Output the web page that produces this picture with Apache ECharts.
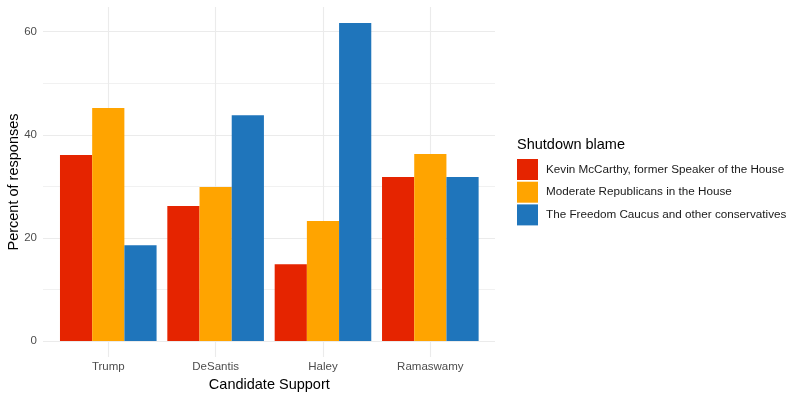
<!DOCTYPE html>
<html>
<head>
	<meta charset="utf-8" />
	<title>Shutdown blame</title>
	<script type="text/javascript" src="https://cdn.jsdelivr.net/npm/echarts@6/dist/echarts.min.js"></script>
	<style>
		html, body { margin: 0; padding: 0; background: #fff; }
		#chart { width: 803px; height: 399px; }
	</style>
</head>
<body>
	<div id="chart"></div>
	<script type="text/javascript">
		var candidates = ['Trump', 'DeSantis', 'Haley', 'Ramaswamy'];
		var blameNames = [
			'Kevin McCarthy, former Speaker of the House',
			'Moderate Republicans in the House',
			'The Freedom Caucus and other conservatives'
		];
		var mccarthy = [36.1, 26.2, 14.9, 31.8];
		var moderates = [45.2, 29.9, 23.3, 36.3];
		var freedomCaucus = [18.6, 43.8, 61.7, 31.8];
		var colors = ['#E52400', '#FFA400', '#1F75BB'];

		var font = 'Liberation Sans';
		var grey = '#EBEBEB';
		var chart = echarts.init(document.getElementById('chart'), null, { renderer: 'canvas' });

		var allSeries = [mccarthy, moderates, freedomCaucus].map(function (vals, i) {
			return {
				name: blameNames[i],
				type: 'bar',
				xAxisIndex: 2,
				yAxisIndex: 2,
				barWidth: 32.2,
				barGap: '0%',
				itemStyle: { color: colors[i] },
				emphasis: { disabled: true },
				data: vals
			};
		});
		// dummy series so grids 0 and 1 are drawn
		allSeries.unshift({ type: 'line', xAxisIndex: 1, yAxisIndex: 1, data: [], silent: true });
		allSeries.unshift({ type: 'line', xAxisIndex: 0, yAxisIndex: 0, data: [], silent: true });

		var option = {
			animation: false,
			textStyle: { fontFamily: font },
			grid: [
				// horizontal gridlines, full panel width
				{ left: 43, right: 308, top: 7, bottom: 58, outerBoundsMode: 'none', containLabel: false },
				// vertical gridlines, full panel height
				{ left: 54.6, right: 319, top: 7, bottom: 42, outerBoundsMode: 'none', containLabel: false },
				// bars
				{ left: 54.6, right: 319, top: 7, bottom: 58, outerBoundsMode: 'none', containLabel: false }
			],
			xAxis: [
				{ gridIndex: 0, type: 'value', min: 0, max: 1, show: false },
				{
					gridIndex: 1, type: 'value', min: 0, max: 8, interval: 1,
					axisLine: { show: false }, axisTick: { show: false }, axisLabel: { show: false },
					splitLine: { show: true, lineStyle: { width: 1.1, color: ['rgba(0,0,0,0)', grey] } }
				},
				{
					gridIndex: 2, type: 'category', data: candidates,
					axisLine: { show: false }, axisTick: { show: false },
					axisLabel: { color: '#4D4D4D', fontSize: 11.5, margin: 20 },
					splitLine: { show: false },
					name: 'Candidate Support', nameLocation: 'middle', nameGap: 36,
					nameMoveOverlap: false,
					nameTextStyle: { color: '#000', fontSize: 14.5 }
				}
			],
			yAxis: [
				{
					gridIndex: 0, type: 'value', min: 0, max: 64.8, interval: 10,
					axisLine: { show: false }, axisTick: { show: false },
					axisLabel: {
						color: '#4D4D4D', fontSize: 11.5, margin: 6, showMaxLabel: false,
						formatter: function (v) { return v % 20 === 0 ? String(v) : ''; }
					},
					splitLine: { show: true, showMaxLine: false, lineStyle: { width: 1.1, color: [grey, '#F1F1F1'] } }
				},
				{
					// only carries the axis title, centred on the full panel height
					gridIndex: 1, type: 'value', min: 0, max: 1,
					axisLine: { show: false }, axisTick: { show: false }, axisLabel: { show: false },
					splitLine: { show: false },
					name: 'Percent of responses', nameLocation: 'middle', nameGap: 33.6,
					nameMoveOverlap: false,
					nameTextStyle: { color: '#000', fontSize: 14.5 }
				},
				{ gridIndex: 2, type: 'value', min: 0, max: 64.8, show: false }
			],
			legend: {
				data: blameNames,
				orient: 'vertical',
				left: 517,
				top: 159,
				padding: 0,
				itemWidth: 21,
				itemHeight: 21,
				itemGap: 1.7,
				icon: 'rect',
				selectedMode: false,
				textStyle: { color: '#1A1A1A', fontSize: 11.7, padding: [0, 0, 0, 3] }
			},
			graphic: [
				{
					type: 'text', left: 517, top: 137,
					style: { text: 'Shutdown blame', fill: '#000', font: '14.5px "Liberation Sans"' }
				}
			],
			series: allSeries
		};
		chart.setOption(option);
	</script>
</body>
</html>
